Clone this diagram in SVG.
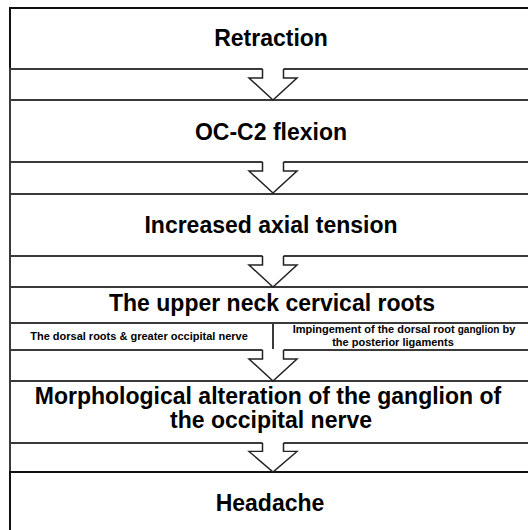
<svg xmlns="http://www.w3.org/2000/svg" width="528" height="530" viewBox="0 0 528 530">
<style>
.box{fill:#fff;stroke:#3a3a3a;stroke-width:2}
.t{font-family:"Liberation Sans",Arial,sans-serif;font-weight:bold;font-size:23px;fill:#000;text-anchor:middle}
.s{font-family:"Liberation Sans",Arial,sans-serif;font-weight:bold;font-size:11px;fill:#000;text-anchor:middle}
.af{fill:#fff;stroke:none}
.al{fill:none;stroke:#222;stroke-width:1.5;stroke-linejoin:miter}
</style>
<defs>
<g id="arrowShape">
<polygon class="af" points="262.5,68 262.5,78 249,78 273,100 297,78 283.5,78 283.5,68"/>
<polyline class="al" points="262.5,69 262.5,78 249,78 273,100 297,78 283.5,78 283.5,69"/>
</g>
</defs>
<rect x="0" y="0" width="528" height="530" fill="#fff"/>
<g id="stage-retraction">
<rect class="box" x="10" y="8" width="530" height="61" style="stroke:#111"/>
<text class="t" x="271" y="46">Retraction</text>
</g>
<g id="gap-1"><rect class="box" x="10" y="69" width="530" height="31"/></g>
<g id="stage-flexion">
<rect class="box" x="10" y="100" width="530" height="62"/>
<text class="t" x="271" y="140">OC-C2 flexion</text>
</g>
<g id="gap-2"><rect class="box" x="10" y="162" width="530" height="32"/></g>
<g id="stage-tension">
<rect class="box" x="10" y="194" width="530" height="62"/>
<text class="t" x="271" y="233">Increased axial tension</text>
</g>
<g id="gap-3"><rect class="box" x="10" y="256" width="530" height="31"/></g>
<g id="stage-roots">
<rect class="box" x="10" y="287" width="530" height="36"/>
<text class="t" x="272" y="311">The upper neck cervical roots</text>
</g>
<g id="gap-4"><rect class="box" x="10" y="350" width="530" height="31"/></g>
<g id="sub-dorsal">
<rect class="box" x="10" y="323" width="263" height="27"/>
<text class="s" x="139" y="340">The dorsal roots &amp; greater occipital nerve</text>
</g>
<g id="sub-impingement">
<rect class="box" x="273" y="323" width="267" height="27"/>
<text class="s" x="404" y="333">Impingement of the dorsal root <tspan font-size="10">ganglion</tspan> by</text>
<text class="s" x="393" y="346">the posterior ligaments</text>
</g>
<g id="stage-morphology">
<rect class="box" x="10" y="381" width="530" height="62"/>
<text class="t" x="268" y="404">Morphological alteration of the ganglion of</text>
<text class="t" x="271" y="428">the occipital nerve</text>
</g>
<g id="gap-5"><rect class="box" x="10" y="443" width="530" height="29"/></g>
<g id="stage-headache">
<rect class="box" x="10" y="472" width="530" height="80" style="stroke:#111"/>
<text class="t" x="270" y="511">Headache</text>
</g>
<g id="connectors">
<use href="#arrowShape"/>
<use href="#arrowShape" transform="translate(0,93)"/>
<use href="#arrowShape" transform="translate(0,187)"/>
<use href="#arrowShape" transform="translate(0,281)"/>
<g transform="translate(0,374) translate(0,69) scale(1,0.935) translate(0,-69)"><use href="#arrowShape"/></g>
</g>
</svg>
